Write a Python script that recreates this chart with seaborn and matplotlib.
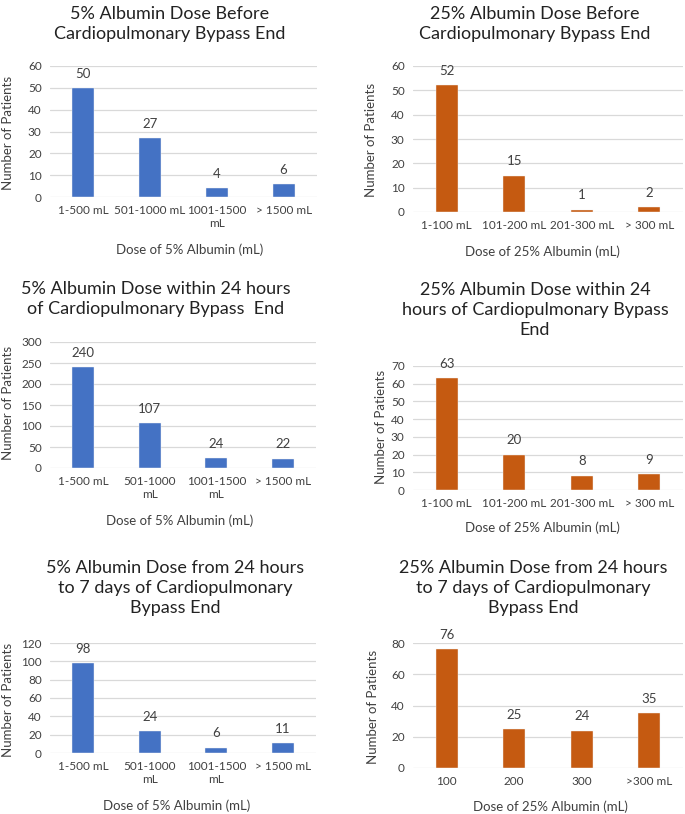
import matplotlib
matplotlib.use("Agg")
import matplotlib.pyplot as plt
import seaborn as sns

# Data
cats_5 = ["1-500 mL", "501-1000 mL", "1001-1500\nmL", "> 1500 mL"]
cats_5_wrap = ["1-500 mL", "501-1000\nmL", "1001-1500\nmL", "> 1500 mL"]
cats_25 = ["1-100 mL", "101-200 mL", "201-300 mL", "> 300 mL"]
cats_25_late = ["100", "200", "300", ">300 mL"]

before_5 = [50, 27, 4, 6]
before_25 = [52, 15, 1, 2]
within24_5 = [240, 107, 24, 22]
within24_25 = [63, 20, 8, 9]
late_5 = [98, 24, 6, 11]
late_25 = [76, 25, 24, 35]

BLUE = "#4472C4"
ORANGE = "#C55A11"

sns.set_style("white")
plt.rcParams['font.family'] = ['Lato', 'DejaVu Sans']

W, H = 685, 814
fig = plt.figure(figsize=(W / 100, H / 100), dpi=100)


def px_rect(x0, x1, y0, y1):
    return [x0 / W, 1 - y1 / H, (x1 - x0) / W, (y1 - y0) / H]


# (categories, values, colour, ylim, ystep, axes px box, title, title pos, xlabel pos, ylabel pos)
panels = [
    (cats_5, before_5, BLUE, 60, 10, (50, 317, 66, 197),
     "5% Albumin Dose Before\nCardiopulmonary Bypass End", (170, 24),
     "Dose of 5% Albumin (mL)", (190, 250), (8, 133)),
    (cats_25, before_25, ORANGE, 60, 10, (413, 683, 66, 212),
     "25% Albumin Dose Before\nCardiopulmonary Bypass End", (535, 24),
     "Dose of 25% Albumin (mL)", (542, 252), (371, 140)),
    (cats_5_wrap, within24_5, BLUE, 300, 50, (50, 316, 342, 468),
     "5% Albumin Dose within 24 hours\nof Cardiopulmonary Bypass  End", (156, 299),
     "Dose of 5% Albumin (mL)", (180, 521), (8, 403)),
    (cats_25, within24_25, ORANGE, 70, 10, (413, 683, 366, 490),
     "25% Albumin Dose within 24\nhours of Cardiopulmonary Bypass\nEnd", (535, 310),
     "Dose of 25% Albumin (mL)", (542, 528), (381, 427)),
    (cats_5_wrap, late_5, BLUE, 120, 20, (50, 316, 643, 753),
     "5% Albumin Dose from 24 hours\nto 7 days of Cardiopulmonary\nBypass End", (175, 588),
     "Dose of 5% Albumin (mL)", (177, 806), (8, 700)),
    (cats_25_late, late_25, ORANGE, 80, 20, (413, 683, 643, 768),
     "25% Albumin Dose from 24 hours\nto 7 days of Cardiopulmonary\nBypass End", (533, 588),
     "Dose of 25% Albumin (mL)", (550, 807), (373, 707)),
]

for cats, vals, col, ymax, ystep, box, title, tpos, xlab, xlpos, ylpos in panels:
    ax = fig.add_axes(px_rect(*box))
    sns.barplot(x=cats, y=vals, color=col, width=0.33, ax=ax,
                edgecolor="#F2F2F2", linewidth=0.3, saturation=1)
    ax.set_ylim(0, ymax)
    ax.set_xlim(-0.5, 3.5)
    ax.set_yticks(range(0, ymax + 1, ystep))
    ax.yaxis.grid(True, color="#D9D9D9", linewidth=0.9)
    ax.set_axisbelow(True)
    for s in ["top", "right", "left", "bottom"]:
        ax.spines[s].set_visible(False)
    ax.tick_params(axis="both", length=0, labelsize=8.5, colors="#404040", pad=6)
    ax.bar_label(ax.containers[0], padding=6, fontsize=9.5, color="#404040")

    ax.set_xlabel(xlab, fontsize=9.5, color="#404040", va="center")
    ax.xaxis.set_label_coords(xlpos[0] / W, 1 - xlpos[1] / H, transform=fig.transFigure)
    ax.set_ylabel("Number of Patients", fontsize=9.5, color="#404040", va="center")
    ax.yaxis.set_label_coords(ylpos[0] / W, 1 - ylpos[1] / H, transform=fig.transFigure)

    fig.text(tpos[0] / W, 1 - tpos[1] / H, title, ha="center", va="center",
             fontsize=13, color="#222222", linespacing=1.3)

fig.savefig("out.png", dpi=100, facecolor="white")
